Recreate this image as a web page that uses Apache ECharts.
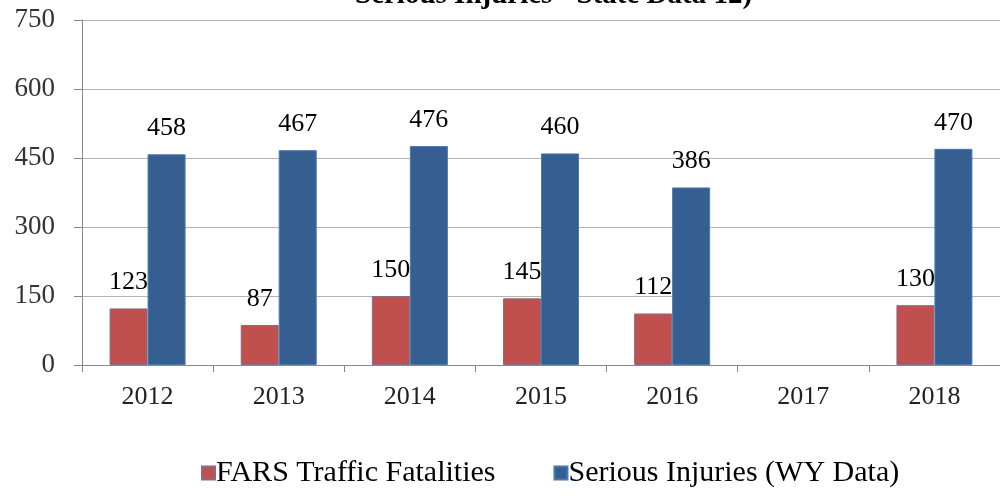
<!doctype html>
<html>
<head>
	<meta charset="utf-8">
	<title>FARS Fatalities and Serious Injuries</title>
	<script src="https://cdn.jsdelivr.net/npm/echarts@6/dist/echarts.min.js"></script>
	<style type="text/css">
		html, body {
			margin: 0;
			padding: 0;
			background: #fff;
		}
		#chart {
			width: 1000px;
			height: 497px;
		}
	</style>
</head>
<body>
	<div id="chart"></div>
	<script type="text/javascript">
		var years = ['2012', '2013', '2014', '2015', '2016', '2017', '2018'];
		var fatalities = [123, 87, 150, 145, 112, null, 130];
		var injuries = [458, 467, 476, 460, 386, null, 470];
		var yTicks = [0, 150, 300, 450, 600, 750];

		var serif = '"Liberation Serif", "DejaVu Serif", serif';

		var myChart = echarts.init(document.getElementById('chart'));
		var option = {
			animation: false,
			title: {
				text: 'Serious Injuries - State Data 12)',
				left: 350,
				top: -24,
				textStyle: {
					fontFamily: serif,
					fontSize: 29,
					fontWeight: 'bold',
					color: '#000'
				}
			},
			grid: {
				left: 82,
				top: 20,
				width: 924,
				height: 345
			},
			legend: {
				bottom: 4,
				left: 196,
				itemWidth: 13,
				itemHeight: 13,
				itemGap: 58,
				icon: 'rect',
				textStyle: {
					fontFamily: serif,
					fontSize: 30,
					color: '#000',
					padding: [0, 0, 0, -4]
				},
				data: ['FARS Traffic Fatalities', 'Serious Injuries (WY Data)']
			},
			xAxis: {
				type: 'category',
				data: years,
				axisLine: { lineStyle: { color: '#888', width: 1 } },
				axisTick: { show: true, length: 7, lineStyle: { color: '#888' } },
				axisLabel: {
					fontFamily: serif,
					fontSize: 26,
					color: '#222',
					margin: 19
				}
			},
			yAxis: {
				type: 'value',
				min: 0,
				max: 750,
				interval: 150,
				axisLine: { show: true, lineStyle: { color: '#888', width: 1 } },
				axisTick: { show: true, length: 8, lineStyle: { color: '#888' } },
				splitLine: { lineStyle: { color: '#b4b4b4', width: 1 } },
				axisLabel: {
					fontFamily: serif,
					fontSize: 27,
					color: '#333',
					margin: 27,
					formatter: function (v) {
						return yTicks.indexOf(v) >= 0 ? String(v) : '';
					}
				}
			},
			series: [
				{
					name: 'FARS Traffic Fatalities',
					type: 'bar',
					data: fatalities,
					barWidth: 38,
					barGap: '0%',
					itemStyle: {
						color: '#c0504d',
						borderColor: '#8a6a8a',
						borderWidth: 1
					},
					label: {
						show: true,
						position: 'top',
						distance: 13,
						fontFamily: serif,
						fontSize: 26,
						color: '#000'
					}
				},
				{
					name: 'Serious Injuries (WY Data)',
					type: 'bar',
					data: injuries,
					barWidth: 38,
					barGap: '0%',
					itemStyle: {
						color: '#365f91',
						borderColor: '#4a78b0',
						borderWidth: 1
					},
					label: {
						show: true,
						position: 'top',
						distance: 13,
						fontFamily: serif,
						fontSize: 26,
						color: '#000'
					}
				}
			]
		};
		myChart.setOption(option);
	</script>
</body>
</html>
